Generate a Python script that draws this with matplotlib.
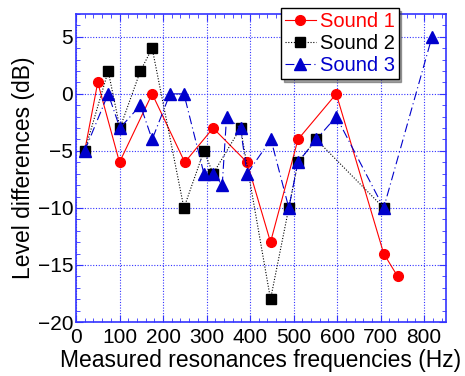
import matplotlib
matplotlib.use("Agg")
import matplotlib.pyplot as plt
from matplotlib.ticker import MultipleLocator

plt.rcParams['font.family'] = ['Liberation Sans', 'DejaVu Sans']

# --- data ---
s1_freq = [20, 50, 100, 175, 250, 315, 393, 447, 510, 598, 707, 739]
s1_level = [-5, 1, -6, 0, -6, -3, -6, -13, -4, 0, -14, -16]

s2_freq = [20, 74, 101, 148, 175, 248, 294, 315, 378, 447, 489, 510, 552, 707]
s2_level = [-5, 2, -3, 2, 4, -10, -5, -7, -3, -18, -10, -6, -4, -10]

s3_freq = [20, 74, 101, 148, 175, 216, 248, 294, 315, 336, 346, 378, 393,
           448, 489, 510, 552, 598, 707, 818]
s3_level = [-5, 0, -3, -1, -4, 0, 0, -7, -7, -8, -2, -3, -7,
            -4, -10, -6, -4, -2, -10, 5]

labels = ['Sound 1', 'Sound 2', 'Sound 3']
colors = ['#ff0000', '#000000', '#0000cc']

fig = plt.figure(figsize=(4.65, 3.76), dpi=100)
ax = fig.add_axes([0.1634, 0.1436, 0.7956, 0.8192])

ax.plot(s1_freq, s1_level, color=colors[0], lw=0.8, ls='-',
        marker='o', ms=7, mec=colors[0], label=labels[0], zorder=3)
ax.plot(s2_freq, s2_level, color=colors[1], lw=0.8, ls=(0, (1, 1.5)),
        marker='s', ms=7, mec=colors[1], label=labels[1], zorder=3)
ax.plot(s3_freq, s3_level, color=colors[2], lw=0.8, ls=(0, (8, 3, 1, 3)),
        marker='^', ms=8, mec=colors[2], label=labels[2], zorder=3)

ax.set_xlim(0, 850)
ax.set_ylim(-20, 7)
ax.xaxis.set_major_locator(MultipleLocator(100))
ax.xaxis.set_minor_locator(MultipleLocator(20))
ax.yaxis.set_major_locator(MultipleLocator(5))
ax.yaxis.set_minor_locator(MultipleLocator(1))

ax.grid(True, which='major', color='#3333ff', ls=(0, (1, 1.5)), lw=0.8)
for sp in ax.spines.values():
    sp.set_color('#3333ff')
    sp.set_linewidth(1.2)
ax.tick_params(which='both', direction='in', top=True, right=True,
               color='#3333ff', labelsize=15)
ax.tick_params(axis='x', pad=4.5)
ax.tick_params(axis='y', pad=2)
ax.tick_params(which='major', length=5)
ax.tick_params(which='minor', length=3)

ax.set_xlabel('Measured resonances frequencies (Hz)', fontsize=16.5, labelpad=1)
ax.set_ylabel('Level differences (dB)', fontsize=16.5, labelpad=2)

leg = ax.legend(loc='upper left', bbox_to_anchor=(0.555, 1.02), fontsize=14.5,
                frameon=True, fancybox=False, shadow=True, handlelength=1.5,
                handletextpad=0.2, borderpad=0.2, labelspacing=0.15,
                borderaxespad=0)
leg.get_frame().set_edgecolor('black')
leg.get_frame().set_linewidth(1.0)
for txt, c in zip(leg.get_texts(), colors):
    txt.set_color(c)

fig.savefig('out.png', dpi=100)
